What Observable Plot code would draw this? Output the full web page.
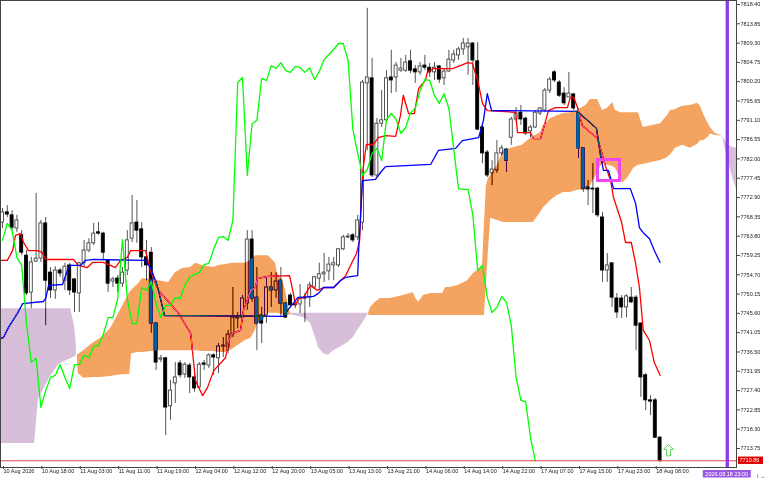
<!DOCTYPE html>
<html><head><meta charset="utf-8">
<script src="https://cdn.jsdelivr.net/npm/d3@7"></script>
<script src="https://cdn.jsdelivr.net/npm/@observablehq/plot@0.6"></script>
<style>html,body{margin:0;padding:0;background:#fff;overflow:hidden}</style>
</head><body><div id="chart"></div>
<script>
// ---- candles (hourly bars, index 0 = first visible bar) ----
const opens  = [7767.0,7769.4,7768.7,7765.6,7764.0,7759.2,7750.5,7757.8,7758.5,7766.8,7755.2,7751.0,7755.7,7753.3,7756.9,7753.6,7750.3,7757.4,7760.4,7762.1,7764.7,7764.4,7758.1,7753.1,7753.8,7752.6,7755.7,7763.2,7767.0,7765.4,7758.8,7759.9,7743.2,7734.7,7735.0,7723.7,7729.1,7733.8,7731.2,7733.3,7730.5,7728.1,7733.8,7733.3,7735.7,7735.0,7737.8,7737.6,7740.6,7744.4,7744.6,7747.9,7763.0,7749.3,7745.1,7745.1,7751.7,7751.0,7753.3,7747.9,7749.8,7747.7,7747.7,7749.3,7749.3,7751.7,7753.8,7754.8,7755.5,7756.9,7756.9,7760.7,7763.5,7764.0,7763.5,7767.0,7799.8,7801.0,7778.1,7790.3,7791.1,7801.2,7801.2,7802.8,7802.8,7805.0,7803.1,7802.4,7804.0,7803.5,7802.4,7803.8,7801.0,7802.6,7805.2,7806.4,7807.8,7808.3,7809.2,7805.0,7789.4,7783.5,7778.6,7779.3,7783.3,7784.2,7787.0,7791.3,7792.9,7791.5,7788.5,7789.4,7792.7,7793.4,7798.1,7802.4,7800.0,7797.4,7796.5,7797.2,7792.7,7784.5,7775.3,7775.0,7775.0,7768.2,7755.7,7757.4,7749.1,7749.1,7747.0,7749.3,7749.3,7743.2,7731.0,7725.1,7725.1,7716.3];
const highs  = [7770.3,7771.0,7769.8,7768.7,7765.1,7760.4,7758.8,7773.9,7767.5,7768.2,7756.4,7756.6,7756.2,7757.4,7757.4,7753.8,7757.6,7762.8,7763.2,7766.8,7767.0,7764.7,7758.1,7754.1,7754.5,7756.4,7765.1,7773.4,7772.2,7767.0,7762.8,7761.1,7743.4,7735.7,7735.2,7729.8,7734.0,7734.5,7734.0,7733.8,7731.0,7734.0,7734.5,7736.1,7736.1,7738.5,7739.9,7741.6,7751.7,7745.8,7749.8,7765.1,7765.1,7756.4,7747.0,7754.1,7755.2,7755.2,7756.4,7748.2,7750.3,7748.2,7752.4,7750.3,7752.9,7754.3,7757.4,7759.7,7758.8,7758.8,7760.9,7764.0,7764.4,7764.4,7768.7,7800.5,7817.5,7805.7,7791.5,7798.1,7802.8,7807.6,7804.7,7805.7,7806.4,7807.6,7804.0,7804.7,7806.4,7804.5,7804.7,7804.0,7803.3,7807.6,7807.6,7808.3,7810.4,7810.4,7809.4,7809.4,7789.9,7784.0,7781.6,7786.3,7785.2,7784.5,7791.8,7794.1,7794.6,7791.8,7789.9,7793.4,7794.1,7798.6,7801.2,7802.8,7800.5,7798.8,7802.4,7797.4,7793.9,7784.7,7776.9,7780.9,7775.3,7769.4,7759.7,7757.4,7750.3,7749.8,7750.0,7751.7,7749.8,7743.4,7731.4,7726.2,7725.5,7716.6];
const lows   = [7765.6,7768.2,7765.1,7764.7,7759.2,7749.8,7746.7,7757.6,7757.6,7742.7,7749.1,7748.9,7754.1,7751.0,7749.8,7745.8,7745.8,7756.4,7759.9,7761.6,7764.0,7758.1,7750.5,7751.7,7750.5,7751.7,7754.5,7762.3,7762.1,7756.4,7753.3,7740.9,7732.1,7734.0,7716.8,7720.4,7724.4,7730.3,7730.3,7726.7,7727.0,7727.9,7732.1,7732.6,7731.0,7731.4,7735.2,7736.1,7739.9,7742.0,7743.9,7746.3,7748.2,7736.8,7738.5,7743.2,7747.0,7749.1,7744.6,7744.4,7747.0,7746.7,7745.6,7743.4,7747.0,7751.5,7751.0,7752.9,7753.3,7753.3,7756.4,7760.4,7763.2,7762.3,7762.8,7765.1,7784.0,7777.6,7777.6,7789.4,7790.3,7797.4,7797.7,7802.4,7802.4,7802.1,7799.8,7801.7,7802.8,7801.2,7800.5,7799.8,7799.3,7802.4,7804.5,7805.2,7806.4,7801.7,7799.3,7788.7,7780.9,7777.6,7775.7,7778.6,7782.8,7778.8,7785.2,7790.6,7789.9,7787.5,7787.0,7789.2,7792.2,7792.9,7797.4,7800.0,7796.5,7794.6,7796.5,7793.4,7782.1,7774.1,7771.0,7769.1,7768.2,7752.9,7752.9,7747.0,7744.4,7744.4,7744.6,7747.9,7736.8,7725.8,7722.7,7721.5,7716.1,7710.4];
const closes = [7769.4,7768.9,7765.8,7767.5,7759.9,7750.3,7757.6,7758.5,7766.8,7753.3,7751.0,7755.7,7755.0,7756.6,7751.0,7750.5,7757.4,7760.4,7762.1,7764.4,7764.4,7759.9,7752.6,7753.6,7752.6,7755.2,7762.8,7766.8,7765.1,7758.8,7756.9,7743.2,7734.0,7735.0,7723.4,7727.4,7730.5,7731.0,7733.5,7730.5,7727.9,7733.5,7733.5,7735.7,7735.2,7737.8,7738.0,7740.6,7744.6,7744.6,7749.1,7763.0,7749.1,7743.2,7743.2,7751.7,7751.0,7753.1,7747.9,7744.6,7747.5,7747.5,7749.3,7749.1,7752.2,7754.1,7754.8,7755.2,7757.1,7757.4,7760.7,7763.5,7763.7,7762.8,7767.5,7800.0,7801.2,7778.1,7790.3,7791.1,7801.0,7800.5,7804.0,7803.3,7804.7,7802.8,7802.4,7803.8,7803.5,7802.4,7803.5,7800.7,7802.6,7805.4,7806.6,7807.8,7809.2,7809.2,7805.2,7788.9,7783.3,7778.1,7779.5,7783.3,7784.5,7781.6,7791.3,7792.7,7791.3,7788.0,7789.4,7792.9,7793.9,7798.1,7800.7,7800.5,7796.9,7795.1,7797.4,7793.9,7784.5,7775.0,7774.8,7774.8,7768.7,7755.7,7756.9,7749.3,7745.8,7747.0,7749.6,7748.2,7742.7,7730.5,7725.1,7724.8,7716.3,7710.86];

// ---- Ichimoku lines, vertices [bar index, price] ----
const tenkan = [[-0.4,7758.1],[1.0,7758.1],[2.1,7760.4],[2.7,7764.0],[3.75,7764.4],[4.4,7762.3],[5.4,7760.4],[7.3,7760.4],[8.3,7759.9],[9.0,7758.3],[14.8,7758.3],[15.8,7756.9],[17.7,7756.4],[18.75,7757.6],[21.0,7757.6],[22.5,7756.9],[23.5,7756.4],[24.6,7758.1],[26.0,7758.8],[26.7,7760.4],[29.8,7760.4],[30.8,7755.7],[32.5,7751.0],[36.7,7745.6],[39.2,7740.9],[40.2,7729.8],[41.7,7726.2],[42.7,7728.1],[44.0,7732.1],[46.5,7735.2],[47.1,7739.2],[47.9,7740.9],[49.6,7741.6],[50.2,7746.3],[51.7,7751.0],[52.7,7751.7],[53.1,7753.8],[55.2,7754.3],[59.8,7754.5],[60.6,7750.3],[61.0,7747.5],[61.7,7749.1],[62.7,7749.3],[64.2,7752.2],[65.6,7751.0],[66.9,7751.7],[69.0,7751.7],[70.0,7752.9],[71.5,7754.5],[72.5,7756.9],[73.75,7759.7],[74.4,7762.8],[75.0,7778.6],[75.8,7785.4],[77.3,7785.4],[78.3,7787.0],[79.8,7787.5],[81.9,7787.3],[82.9,7792.2],[83.5,7797.0],[84.6,7792.7],[85.8,7792.7],[86.7,7798.6],[88.1,7800.5],[88.5,7802.4],[89.8,7803.3],[93.75,7803.3],[95.4,7804.0],[96.9,7804.7],[97.9,7804.5],[99.0,7800.5],[100.0,7795.1],[101.0,7793.4],[106.9,7793.0],[107.3,7788.2],[110.0,7788.2],[110.6,7786.8],[112.1,7786.8],[113.75,7793.4],[115.2,7794.1],[117.7,7794.1],[118.3,7796.5],[119.0,7796.5],[119.8,7794.1],[120.8,7789.9],[122.5,7788.2],[124.0,7786.8],[125.6,7780.4],[126.7,7776.9],[127.3,7772.9],[129.0,7767.0],[129.8,7762.3],[131.0,7762.3],[131.9,7757.4],[132.7,7751.7],[133.5,7741.6],[134.8,7739.2],[135.8,7734.0],[137.0,7731.0]];
const kijun = [[-0.4,7739.7],[0.2,7739.9],[1.25,7742.3],[3.1,7745.6],[4.2,7747.9],[8.5,7748.4],[9.0,7749.1],[9.6,7752.2],[12.5,7752.4],[13.5,7755.7],[14.2,7756.9],[16.25,7756.9],[17.3,7758.1],[19.0,7758.3],[29.8,7758.1],[30.8,7756.4],[31.9,7753.3],[32.5,7751.0],[33.75,7745.1],[58.5,7744.9],[59.4,7746.3],[61.5,7749.3],[64.8,7749.6],[65.8,7750.3],[66.9,7751.7],[69.0,7751.7],[70.4,7753.3],[71.5,7754.1],[74.0,7754.5],[74.2,7760.4],[75.0,7776.9],[77.7,7777.2],[78.75,7778.8],[79.8,7780.2],[89.2,7780.7],[90.8,7784.0],[94.4,7784.5],[95.8,7786.3],[99.2,7787.0],[100.2,7791.1],[101.0,7797.4],[101.9,7793.4],[119.8,7793.2],[123.75,7789.2],[124.6,7782.8],[125.2,7779.3],[126.25,7779.3],[127.3,7775.0],[130.8,7775.0],[131.9,7771.5],[132.7,7765.8],[133.5,7764.6],[134.8,7763.2],[135.8,7760.4],[137.0,7757.6]];
const chikouShift = 26;

// ---- Kumo (cloud) pieces: [bar index, upper span, lower span] ----
const kumoBear1 = [[-0.5,7746.7,7714.9],[6.7,7746.7,7714.9],[7.1,7746.7,7720.3],[7.5,7746.7,7725.5],[9.0,7746.7,7728.6],[10.0,7746.7,7730.7],[11.7,7746.7,7733.5],[13.3,7746.7,7734.5],[14.2,7746.7,7734.9],[15.0,7742.7,7735.3],[15.4,7738.0,7735.7]];
const kumoBull1 = [[15.6,7735.7,7735.0],[15.8,7735.9,7731.4],[16.9,7736.8,7730.3],[18.75,7738.5,7730.5],[20.4,7739.7,7730.5],[22.5,7742.0,7730.7],[24.0,7745.1,7731.0],[25.6,7748.6,7731.2],[26.5,7750.5,7731.2],[26.9,7751.0,7736.1],[28.3,7752.6,7736.4],[29.2,7753.8,7736.4],[32.5,7753.3,7736.8],[34.6,7752.9,7736.8],[36.0,7755.2,7736.8],[37.5,7756.2,7736.8],[39.2,7756.4,7736.8],[40.2,7757.4,7736.8],[41.7,7756.9,7736.6],[44.0,7756.4,7736.6],[45.0,7756.9,7736.4],[46.5,7757.1,7736.4],[47.9,7757.4,7737.1],[48.5,7757.4,7737.6],[50.6,7757.4,7739.2],[51.7,7758.1,7739.7],[52.7,7759.2,7741.6],[53.1,7759.2,7743.2],[54.2,7759.2,7743.9],[55.4,7759.2,7745.6],[56.9,7757.4,7745.6],[57.3,7755.0,7745.6],[58.3,7753.3,7745.3],[59.0,7751.0,7745.1],[59.6,7747.0,7745.1],[60.0,7745.6,7745.3]];
const kumoBear2 = [[60.0,7745.6,7745.3],[62.7,7745.6,7744.6],[64.2,7745.6,7743.2],[65.2,7745.6,7739.9],[65.8,7745.6,7737.6],[66.9,7745.6,7736.1],[67.9,7745.6,7735.7],[69.0,7745.6,7736.8],[70.4,7745.6,7737.6],[71.9,7745.6,7738.7],[73.1,7745.6,7739.9],[74.0,7745.6,7741.6],[75.0,7745.6,7743.2],[76.0,7745.6,7745.1],[76.25,7745.6,7745.6]];
const kumoBull2 = [[76.25,7745.6,7745.3],[76.7,7747.0,7745.1],[77.7,7748.2,7745.1],[78.75,7749.1,7745.1],[80.8,7749.1,7745.1],[83.5,7749.8,7745.1],[85.0,7750.3,7745.1],[85.6,7750.5,7745.1],[86.0,7749.3,7745.1],[86.7,7748.2,7745.1],[87.7,7749.8,7745.1],[89.2,7750.3,7745.1],[91.7,7750.3,7745.1],[92.3,7751.7,7745.1],[93.3,7751.7,7745.1],[95.0,7752.2,7745.1],[96.9,7753.3,7745.1],[98.1,7755.0,7745.1],[99.2,7755.9,7745.1],[100.0,7756.9,7745.1],[100.4,7766.3,7745.1],[100.8,7775.7,7752.2],[101.25,7777.4,7760.4],[101.7,7778.1,7768.0],[103.1,7780.5,7767.5],[104.4,7784.0,7767.0],[108.3,7785.2,7767.0],[109.4,7786.3,7767.0],[110.6,7787.3,7767.0],[112.1,7788.2,7769.4],[112.7,7789.9,7770.5],[114.2,7791.5,7772.2],[115.6,7792.2,7773.4],[116.9,7792.7,7774.1],[118.3,7792.9,7774.1],[119.8,7793.4,7774.6],[121.5,7794.6,7774.6],[122.5,7796.0,7775.7],[124.0,7796.0,7778.8],[125.0,7793.4,7780.9],[126.0,7793.9,7780.5],[127.1,7795.3,7780.2],[127.7,7793.4,7779.8],[128.75,7792.9,7777.4],[129.2,7792.9,7776.4],[130.2,7792.9,7777.4],[131.5,7792.9,7779.8],[132.5,7792.9,7780.5],[133.5,7789.4,7780.7],[137.1,7790.3,7781.6],[138.5,7792.2,7782.3],[139.2,7793.4,7783.0],[140.2,7793.6,7784.5],[140.6,7793.9,7784.7],[141.7,7794.4,7785.2],[143.3,7794.6,7784.5],[144.8,7795.1,7785.4],[145.4,7794.4,7786.3],[146.0,7792.7,7786.3],[146.9,7790.6,7787.0],[147.5,7789.4,7787.9],[148.5,7788.0,7787.5],[150.0,7787.4,7787.4]];
const kumoBear3 = [[150.0,7787.4,7787.4],[151.0,7785.6,7782.1],[151.7,7784.9,7779.3],[152.3,7784.7,7776.9],[153.1,7784.5,7774.1]];

// ---- axes ----
const yTicks = [7818.40,7813.85,7809.30,7804.75,7800.20,7795.65,7791.10,7786.55,7782.00,7777.45,7772.90,7768.35,7763.80,7759.25,7754.70,7750.15,7745.60,7741.05,7736.50,7731.95,7727.40,7722.85,7718.30,7713.75];
const xTicks = [0,8,16,24,32,40,48,56,64,72,80,88,96,104,112,120,128,136];
const xLabels = ["10 Aug 2026","10 Aug 18:00","11 Aug 03:00","11 Aug 11:00","11 Aug 19:00","12 Aug 04:00","12 Aug 12:00","12 Aug 20:00","13 Aug 05:00","13 Aug 13:00","13 Aug 21:00","14 Aug 06:00","14 Aug 14:00","14 Aug 22:00","17 Aug 07:00","17 Aug 15:00","17 Aug 23:00","18 Aug 08:00"];

// ---- annotations ----
const lastPrice = 7710.86;
const markerIndex = 151;
const markerLabel = "2026.08.18 23:00";
const boxX = [124.06, 128.65];
const boxY = [7776.8, 7781.75];
const arrowAt = [138.75, 7713.3];

const bars = opens.map((o, i) => ({i, o, h: highs[i], l: lows[i], c: closes[i]}));
const bull = bars.filter(b => b.c >= b.o);
const bear = bars.filter(b => b.c < b.o);
const chikou = bars.slice(chikouShift).map(b => ({i: b.i - chikouShift, v: b.c}));
const labelOf = new Map(xTicks.map((t, k) => [t, xLabels[k]]));
const BULL_FILL = "rgb(11,91,159)";   // appears sandy orange through the difference blend
const BEAR_FILL = "rgb(40,64,38)";    // appears thistle purple
const kumo = (data, fill) => Plot.areaY(data, {x: d => d[0], y1: d => d[1], y2: d => d[2], fill, mixBlendMode: "difference", clip: true});
const hw = 0.31;
// hollow "up" arrow symbol (signal marker)
const upArrow = {draw(ctx) {
  ctx.moveTo(0, -6); ctx.lineTo(5, -1); ctx.lineTo(2, -1); ctx.lineTo(2, 5.5);
  ctx.lineTo(-2, 5.5); ctx.lineTo(-2, -1); ctx.lineTo(-5, -1); ctx.closePath();
}};

const plot = Plot.plot({
  width: 768, height: 480,
  marginLeft: 0, marginRight: 32, marginTop: 0, marginBottom: 13,
  x: {domain: [-0.417, 152.92], axis: null},
  y: {domain: [7709.27, 7819.34], axis: null},
  style: {fontFamily: "'Liberation Sans', Arial, sans-serif", fontSize: "5.5px", background: "#fff", color: "#222", overflow: "visible"},
  marks: [
    Plot.frame({fill: "#fff", stroke: null}),
    Plot.ruleX(bars, {x: "i", y1: "l", y2: "h", stroke: "#555", strokeWidth: 1}),
    Plot.rect(bull, {x1: d => d.i - hw, x2: d => d.i + hw, y1: "o", y2: "c", fill: "#fff", stroke: "#444", strokeWidth: 0.9}),
    Plot.rect(bear, {x1: d => d.i - hw, x2: d => d.i + hw, y1: "o", y2: "c", fill: "#000", stroke: "#000", strokeWidth: 0.9}),
    Plot.line(tenkan, {x: d => d[0], y: d => d[1], stroke: "#ff0000", strokeWidth: 1.3, clip: true}),
    Plot.line(kijun, {x: d => d[0], y: d => d[1], stroke: "#0000ff", strokeWidth: 1.3, clip: true}),
    kumo(kumoBear1, BEAR_FILL),
    kumo(kumoBull1, BULL_FILL),
    kumo(kumoBear2, BEAR_FILL),
    kumo(kumoBull2, BULL_FILL),
    kumo(kumoBear3, BEAR_FILL),
    Plot.line(chikou, {x: "i", y: "v", stroke: "#00ff00", strokeWidth: 1.3}),
    Plot.ruleY([lastPrice], {stroke: "#e04848", strokeWidth: 1}),
    Plot.ruleX([markerIndex], {stroke: "#8c3ce6", strokeWidth: 3.3}),
    Plot.rect([0], {x1: boxX[0], x2: boxX[1], y1: boxY[0], y2: boxY[1], fill: "none", stroke: "#f046f0", strokeWidth: 3}),
    Plot.dot([arrowAt], {x: d => d[0], y: d => d[1], symbol: upArrow, r: 5, fill: "#fff", stroke: "#62d862", strokeWidth: 1}),
    Plot.frame({stroke: "#444", strokeWidth: 1}),
    Plot.axisY(yTicks, {anchor: "right", tickSize: 3, tickPadding: 1, tickFormat: d => d.toFixed(2), fontSize: 5.5, stroke: "#444", fill: "#222"}),
    Plot.axisX(xTicks, {anchor: "bottom", tickSize: 3, tickPadding: 0, tickFormat: d => labelOf.get(d), textAnchor: "start", dx: 1, dy: -1, fontSize: 5.5, stroke: "#444", fill: "#222"})
  ]
});

const svg = d3.select(plot);
svg.selectAll('g[aria-label="area"]').style("mix-blend-mode", "difference");
const xs = plot.scale("x"), ys = plot.scale("y");
const right = xs.apply(152.92);
const py = ys.apply(lastPrice);
const tag = svg.append("g").attr("font-family", "'Liberation Sans', Arial, sans-serif").attr("font-size", 5.5);
tag.append("rect").attr("x", right + 2).attr("y", py - 3.7).attr("width", 25).attr("height", 7.4).attr("fill", "#dd0000");
tag.append("text").attr("x", right + 3.5).attr("y", py).attr("dy", "0.35em").attr("text-anchor", "start").attr("fill", "#fff").text(lastPrice.toFixed(2));
const mx = xs.apply(markerIndex);
const by = ys.apply(7709.27);
tag.append("rect").attr("x", mx - 24).attr("y", by + 3).attr("width", 48).attr("height", 7.5).attr("fill", "#9a5ae6");
tag.append("text").attr("x", mx).attr("y", by + 6.8).attr("dy", "0.35em").attr("text-anchor", "middle").attr("fill", "#fff").text(markerLabel);

document.getElementById("chart").appendChild(plot);
</script>
</body></html>
